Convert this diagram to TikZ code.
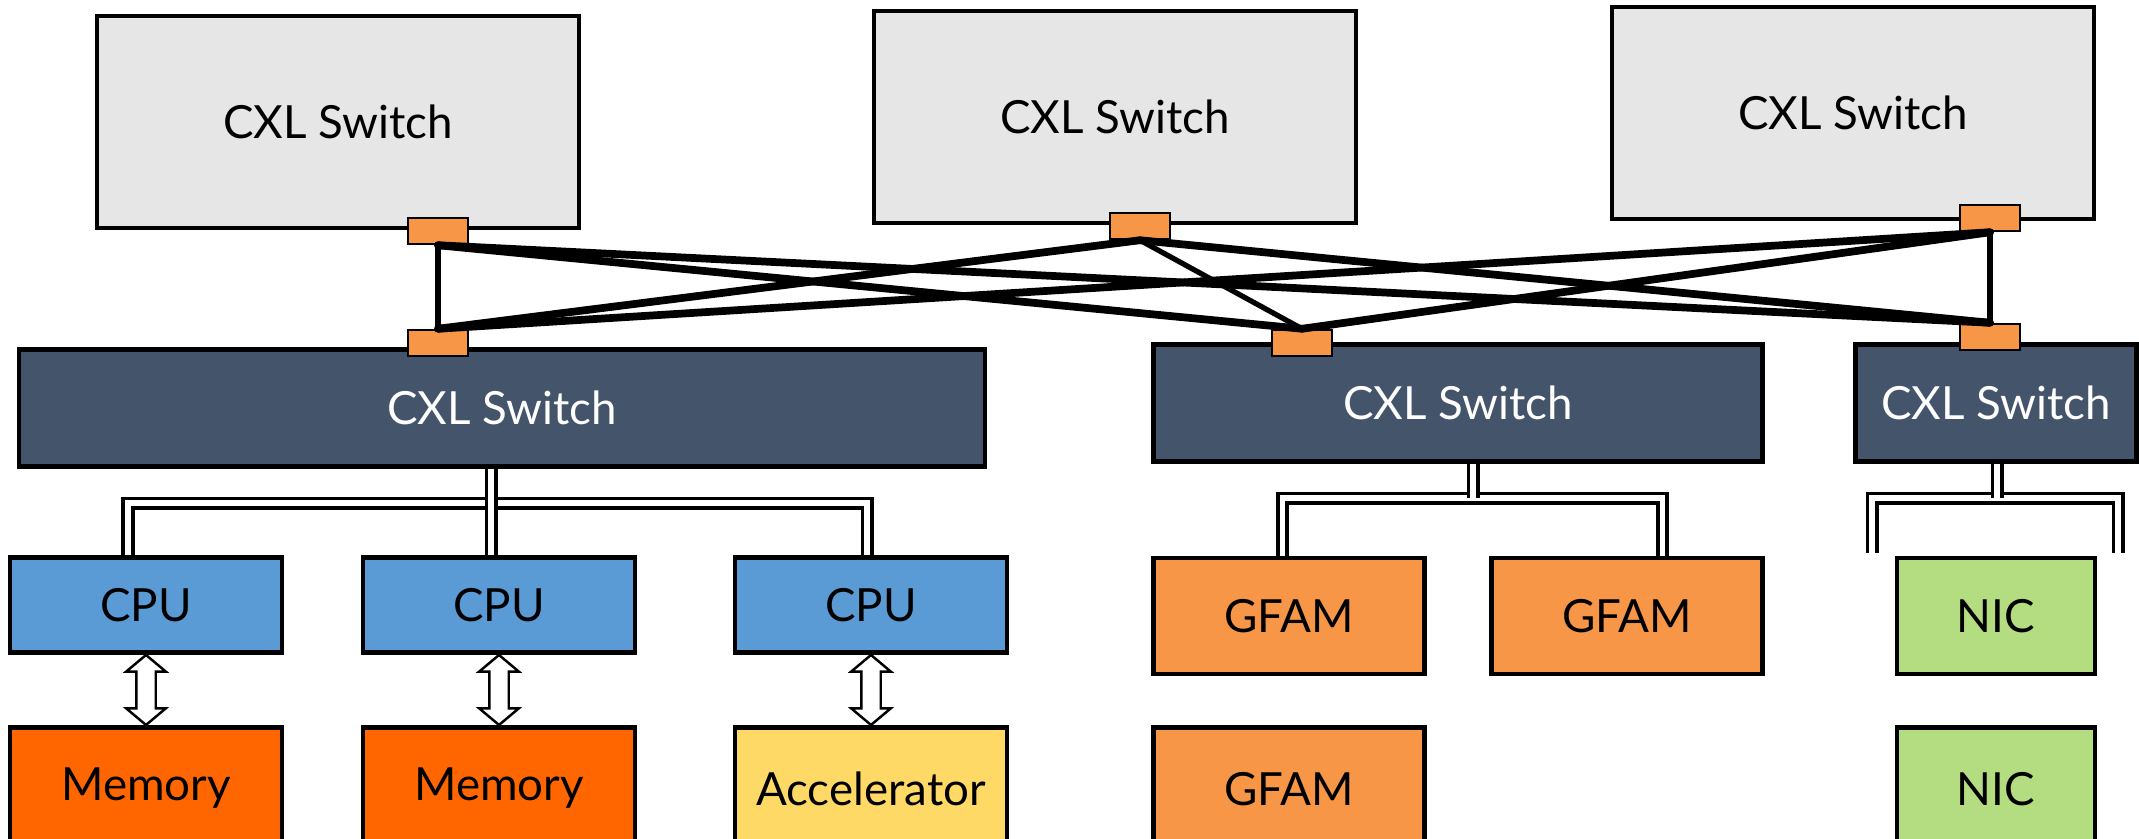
\documentclass[tikz,border=0pt]{standalone}
\usepackage{fontspec}
\setmainfont{Lato}
\usepackage{tikz}
\usetikzlibrary{arrows.meta,shapes.arrows,positioning,calc}
\definecolor{CXLLight}{RGB}{230,230,230}
\definecolor{CXLNavy}{RGB}{68,84,106}
\definecolor{CXLPort}{RGB}{247,150,70}
\definecolor{CXLBlue}{RGB}{91,155,213}
\definecolor{CXLMem}{RGB}{255,102,0}
\definecolor{CXLAcc}{RGB}{255,217,102}
\definecolor{CXLNic}{RGB}{180,221,130}
\tikzset{
  tsw/.style={draw=black,fill=CXLLight,line width=1.1pt,minimum width=48.2mm,minimum height=21.2mm,inner sep=0pt},
  bsw/.style={draw=black,fill=CXLNavy,line width=1.2pt,minimum height=11.7mm,inner sep=0pt,text=white},
  port/.style={draw=black,fill=CXLPort,line width=0.7pt,minimum width=6mm,minimum height=2.6mm,inner sep=0pt},
  dev/.style={draw=black,line width=1.4pt,minimum width=27.2mm,inner sep=0pt},
  link/.style={line width=2.2pt,line cap=round},
  vlink/.style={line width=1.5pt},
  bus/.style={draw=black,line width=1.1pt,double=white,double distance=1.5pt},
  dblarr/.style={double arrow,draw=black,fill=white,line width=0.7pt,inner xsep=0pt,inner ysep=0.85mm,rotate=90,
    minimum height=7mm,minimum width=3.7mm,double arrow head extend=1mm,double arrow tip angle=100},
}
\begin{document}
\begin{tikzpicture}[x=0.1mm,y=-0.1mm,font=\fontsize{13}{15}\selectfont]
  \useasboundingbox (0,0) rectangle (2139,839);
  % fabric switches
  \node[tsw] (sw1) at (338,122) {CXL Switch};
  \node[tsw] (sw2) at (1115,117) {CXL Switch};
  \node[tsw] (sw3) at (1853,113) {CXL Switch};
  % edge switches
  \node[bsw,minimum width=96.6mm] (es1) at (502,408) {CXL Switch};
  \node[bsw,minimum width=60.9mm] (es2) at (1458,403) {CXL Switch};
  \node[bsw,minimum width=28.1mm] (es3) at (1996,403) {CXL Switch};
  % ports
  \node[port] (p1) at (438,231) {};
  \node[port] (p2) at (1140,226) {};
  \node[port] (p3) at (1990,218) {};
  \node[port] (q1) at (438,343) {};
  \node[port] (q2) at (1302,343) {};
  \node[port] (q3) at (1990,337) {};
  % fabric links
  \foreach \a/\b in {p1/q2,p1/q3,p2/q1,p2/q3,p3/q1,p3/q2}
    \draw[link] (\a.south) -- (\b.north);
  \foreach \a/\b in {p1/q1,p2/q2,p3/q3}
    \draw[vlink] (\a.south) -- (\b.north);

  % hosts
  \node[dev,fill=CXLBlue,minimum height=9.5mm] (cpu1) at (146,605) {CPU};
  \node[dev,fill=CXLBlue,minimum height=9.5mm] (cpu2) at (499,605) {CPU};
  \node[dev,fill=CXLBlue,minimum height=9.5mm] (cpu3) at (871,605) {CPU};
  \node[dev,fill=CXLMem,minimum height=12.2mm,below=7mm of cpu1] (mem1) {Memory};
  \node[dev,fill=CXLMem,minimum height=12.2mm,below=7mm of cpu2] (mem2) {Memory};
  \node[dev,fill=CXLAcc,minimum height=12.2mm,below=7mm of cpu3] (acc) {Accelerator};
  \node[dblarr] (a1) at ($(cpu1.south)!.5!(mem1.north)$) {};
  \node[dblarr] (a2) at ($(cpu2.south)!.5!(mem2.north)$) {};
  \node[dblarr] (a3) at ($(cpu3.south)!.5!(acc.north)$) {};

  % memory pool
  \node[dev,fill=CXLPort,minimum width=27.1mm,minimum height=11.6mm] (gfam1) at (1289,616) {GFAM};
  \node[dev,fill=CXLPort,minimum width=27.1mm,minimum height=11.6mm] (gfam2) at (1627,616) {GFAM};
  \node[dev,fill=CXLPort,minimum width=27.1mm,minimum height=12.2mm,below=4.9mm of gfam1] (gfam3) {GFAM};
  \node[dev,fill=CXLNic,minimum width=19.8mm,minimum height=11.6mm] (nic1) at (1996,616) {NIC};
  \node[dev,fill=CXLNic,minimum width=19.8mm,minimum height=12.2mm,below=4.9mm of nic1] (nic2) {NIC};

  % buses
  \coordinate (h1) at (491,503);
  \coordinate (h2) at (1473,498);
  \coordinate (h3) at (1997,498);
  \coordinate (n3a) at (1872,553);
  \coordinate (n3b) at (2118,553);
  \draw[bus] ([xshift=-1.8mm]cpu1.north) |- ([xshift=-0.4mm]cpu3.north |- h1) -- ([xshift=-0.4mm]cpu3.north);
  \draw[bus] (h1 |- es1.south) -- (h1 |- cpu2.north);
  \draw[bus] ([xshift=-0.65mm]gfam1.north) |- ([xshift=3.55mm]gfam2.north |- h2) -- ([xshift=3.55mm]gfam2.north);
  \draw[bus] (h2 |- es2.south) -- (h2);
  \draw[bus] (n3a) |- (h3) -| (n3b);
  \draw[bus] (h3 |- es3.south) -- (h3);
\end{tikzpicture}
\end{document}
